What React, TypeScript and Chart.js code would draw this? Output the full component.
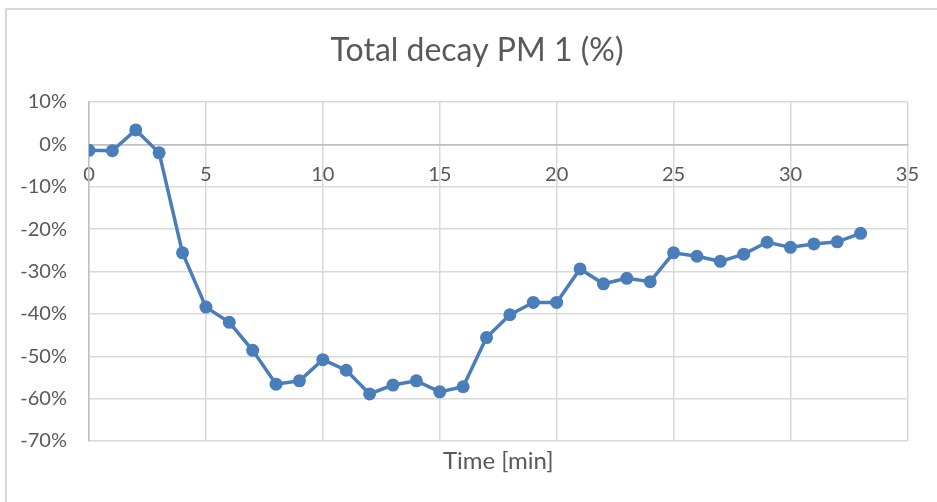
import React, { useEffect, useRef } from "react";
import { Chart, registerables } from "chart.js";

Chart.register(...registerables);

const minutes: number[] = [0, 1, 2, 3, 4, 5, 6, 7, 8, 9, 10, 11, 12, 13, 14, 15, 16, 17, 18, 19, 20, 21, 22, 23, 24, 25, 26, 27, 28, 29, 30, 31, 32, 33];
const decayPercent: number[] = [-1.4, -1.5, 3.4, -2.0, -25.6, -38.4, -42.0, -48.6, -56.6, -55.8, -50.8, -53.3, -58.9, -56.8, -55.8, -58.4, -57.2, -45.6, -40.2, -37.3, -37.3, -29.4, -32.9, -31.6, -32.4, -25.6, -26.4, -27.6, -25.9, -23.1, -24.3, -23.5, -23.0, -21.0];
const chartTitle = "Total decay PM 1 (%)";
const xAxisTitle = "Time [min]";
const xMin = 0;
const xMax = 35;
const xStep = 5;
const yMin = -70;
const yMax = 10;
const yStep = 10;

const FONT = "Lato";
const TEXT = "#595959";
const GRID = "#d9d9d9";
const AXIS = "#bfbfbf";
const BLUE = "#4a7ebb";

// Centre the chart title over the whole chart frame (as Excel does), not over canvas minus right padding.
const titleShift = {
  id: "titleShift",
  afterLayout(chart: any) {
    const t = chart.titleBlock;
    if (t) {
      t.left = 44;
    }
  },
};

export default function App() {
  const ref = useRef<HTMLCanvasElement | null>(null);

  useEffect(() => {
    if (!ref.current) return;
    const chart = new Chart(ref.current, {
      type: "line",
      data: {
        datasets: [
          {
            data: minutes.map((m, i) => ({ x: m, y: decayPercent[i] })),
            borderColor: BLUE,
            backgroundColor: BLUE,
            borderWidth: 3.5,
            pointRadius: 6.5,
            pointBorderWidth: 0,
            pointBackgroundColor: BLUE,
            tension: 0,
          },
        ],
      },
      plugins: [titleShift],
      options: {
        animation: false,
        responsive: false,
        maintainAspectRatio: false,
        layout: { padding: { left: 0, right: 27, top: 0, bottom: 0 } },
        plugins: {
          legend: { display: false },
          tooltip: { enabled: false },
          title: {
            display: true,
            text: chartTitle,
            color: TEXT,
            font: { family: FONT, size: 32, weight: "normal" },
            padding: { top: 31.8, bottom: 31.8 },
          },
          subtitle: {
            display: true,
            position: "bottom",
            fullSize: false,
            text: xAxisTitle,
            color: TEXT,
            font: { family: FONT, size: 24, weight: "normal" },
            padding: { top: 6, bottom: 26.2 },
          },
        },
        scales: {
          x: {
            type: "linear",
            position: { y: 0 } as any,
            min: xMin,
            max: xMax,
            ticks: {
              stepSize: xStep,
              color: TEXT,
              font: { family: FONT, size: 20 },
              padding: 18,
              maxRotation: 0,
            },
            grid: { color: GRID, lineWidth: 1.5, drawTicks: false },
            border: { display: true, color: AXIS, width: 1.5 },
            afterFit: (scale: any) => {
              scale.height = 1;
            },
          },
          y: {
            type: "linear",
            min: yMin,
            max: yMax,
            ticks: {
              stepSize: yStep,
              color: TEXT,
              font: { family: FONT, size: 20 },
              padding: 22,
              callback: (v: any) => `${v}%`,
            },
            grid: {
              color: (ctx: any) => (ctx.tick && ctx.tick.value === 0 ? AXIS : GRID),
              lineWidth: 1.5,
              drawTicks: false,
            },
            border: { display: true, color: AXIS, width: 1.5 },
            afterFit: (scale: any) => {
              scale.width = 89;
            },
          },
        },
      },
    });
    return () => chart.destroy();
  }, []);

  return (
    <div style={{ position: "fixed", left: 0, top: 0, width: 937, height: 502, background: "#fff", overflow: "hidden" }}>
      <div
        style={{
          position: "absolute",
          left: 5,
          top: 8,
          width: 960,
          height: 520,
          border: "2px solid #d9d9d9",
          boxSizing: "border-box",
        }}
      />
      <canvas ref={ref} width={937} height={502} style={{ position: "absolute", left: 0, top: 0, width: 937, height: 502 }} />
    </div>
  );
}
